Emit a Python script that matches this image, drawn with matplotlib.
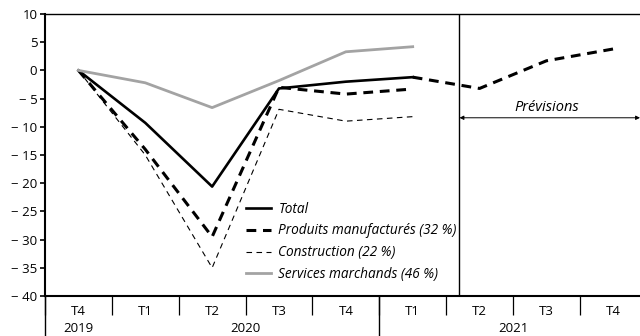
import matplotlib
matplotlib.use("Agg")
import matplotlib.pyplot as plt
from matplotlib.transforms import blended_transform_factory

plt.rcParams["font.family"] = ["Open Sans", "DejaVu Sans"]

# quarters T4 2019 .. T4 2021
QUARTERS = ["T4", "T1", "T2", "T3", "T4", "T1", "T2", "T3", "T4"]
YEARS = ["2019", "2020", "2021"]
YEAR_POS = [0, 2.5, 6.5]
SEP_POS = [-0.5, 0.5, 1.5, 2.5, 3.5, 4.5, 5.5, 6.5, 7.5]
LONG_SEP = [-0.5, 4.5]

total = [0, -9.3, -20.6, -3.2, -2.0, -1.2]
total_prev = [-1.2, -3.2, 1.7, 3.8]            # forecast T1 2021 -> T4 2021
produits = [0, -14.0, -29.5, -3.0, -4.2, -3.3]
construction = [0, -15.0, -35.0, -6.9, -9.0, -8.2]
services = [0, -2.2, -6.6, -1.8, 3.3, 4.2]
X_HIST = list(range(6))
X_PREV = [5, 6, 7, 8]
PREV_START = 5.7

FS = 9.5

fig = plt.figure(figsize=(6.4, 3.36), dpi=100)
ax = fig.add_axes([45/640, 1-296/336, 1-45/640, (296-14)/336])

ax.plot(X_HIST, total, color="black", lw=1.9, label="Total")
ax.plot(X_HIST, produits, color="black", lw=2.2, dashes=(3.2, 2.2),
        label="Produits manufacturés (32 %)")
ax.plot(X_HIST, construction, color="black", lw=0.8, dashes=(5, 4),
        label="Construction (22 %)")
ax.plot(X_HIST, services, color="#a3a3a3", lw=2.0, label="Services marchands (46 %)")
ax.plot(X_PREV, total_prev, color="black", lw=2.2, dashes=(3.2, 2.2))

ax.axvline(PREV_START, color="black", lw=1.0)
ax.annotate("", xy=(PREV_START, -8.4), xytext=(8.4, -8.4),
            arrowprops=dict(arrowstyle="<|-|>", color="black", lw=0.7,
                            mutation_scale=6, shrinkA=0, shrinkB=0))
ax.text((PREV_START + 8.4) / 2 - 0.05, -6.5, "Prévisions", style="italic",
        ha="center", va="center", fontsize=10.5)

ax.set_xlim(-0.5, 8.4)
ax.set_ylim(-40, 10)
ax.set_yticks(range(-40, 11, 5))
ax.set_yticklabels([f"\u2212 {-v}" if v < 0 else str(v) for v in range(-40, 11, 5)],
                   fontsize=FS)
ax.tick_params(axis="y", length=3.5, width=1.2, pad=2)
ax.spines["right"].set_visible(False)
ax.spines["left"].set_linewidth(1.5)
ax.spines["bottom"].set_linewidth(1.5)
ax.spines["top"].set_linewidth(1.0)

ax.set_xticks(SEP_POS)
ax.set_xticklabels([])
ax.tick_params(axis="x", length=14, width=0.9, direction="out")

tr = blended_transform_factory(ax.transData, ax.transAxes)
for i, q in enumerate(QUARTERS):
    ax.text(i, -0.055, q, transform=tr, ha="center", va="center", fontsize=FS)
for p, yr in zip(YEAR_POS, YEARS):
    ax.text(p, -0.115, yr, transform=tr, ha="center", va="center", fontsize=FS)
for p in LONG_SEP:
    ax.plot([p, p], [0, -0.15], transform=tr, color="black", lw=1.0, clip_on=False)

leg = ax.legend(loc="lower left", bbox_to_anchor=(0.328, 0.03), frameon=False,
                prop=dict(style="italic", size=9.8), handlelength=1.85,
                handletextpad=0.55, labelspacing=0.5, borderaxespad=0)

fig.savefig("out.png", dpi=100)
